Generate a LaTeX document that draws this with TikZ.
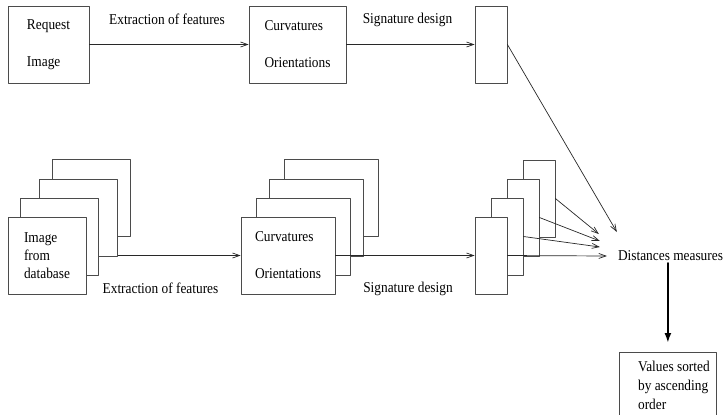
\documentclass[tikz,border=0pt]{standalone}
\usepackage{fontspec}
\setmainfont{Liberation Serif}[FakeStretch=0.89]
\usetikzlibrary{arrows.meta,calc,positioning,backgrounds}
\definecolor{framegray}{RGB}{75,75,75}
\definecolor{linegray}{RGB}{40,40,40}

\begin{document}
\begin{tikzpicture}[x=1pt,y=-1pt,line cap=round,line join=round,
                    font=\fontsize{15}{18}\selectfont,
    box/.style={draw=framegray,fill=white,line width=.8pt,inner sep=0pt,
                minimum height=77pt,align=left},
    flow/.style={-{Straight Barb[length=7pt,width=5pt]},draw=linegray,
                 line width=.7pt},
    lbl/.style={inner sep=0pt}]
  \useasboundingbox (0,0) rectangle (726,415);
  % Obraz zapytania: cechy i sygnatura.
  \node[box,minimum width=81pt] (req) at (48.5,44.5) {Request\\[19pt]Image};
  \node[box,minimum width=97pt] (cvt) at (297.5,44.5)
       {Curvatures\\[19pt]Orientations};
  \node[box,minimum width=32pt] (sgt) at (491,44.5) {};
  \draw[flow] (req) -- (cvt)
       node[lbl,midway,xshift=-2pt,yshift=25pt] {Extraction of features};
  \draw[flow] (cvt) -- (sgt)
       node[lbl,midway,xshift=-3pt,yshift=25pt] {Signature design};

  % Obrazy z bazy: stosy kart.
  \foreach \n/\x/\y in {4/91/198,3/78/217.5,2/59/236.5}
    \node[box,minimum width=78pt] (db\n) at (\x,\y) {};
  \node[box,minimum width=78pt] (db1) at (47,255.5)
       {Image\\from\\database};
  \foreach \n/\x/\y in {4/331.5/198,3/316.5/217.5,2/303.5/236.5}
    \node[box,minimum width=94pt] (cv\n) at (\x,\y) {};
  \node[box,minimum width=94pt] (cv1) at (288,255.5)
       {Curvatures\\[19pt]Orientations};
  \foreach \n/\x/\y in {4/539/198.5,3/523/217.5,2/507/236.5,1/491/255.5}
    \node[box,minimum width=32pt] (sg\n) at (\x,\y) {};

  \begin{scope}[on background layer]
    \draw[flow] (db1) -- (cv1)
         node[lbl,midway,xshift=-3pt,yshift=-33pt] {Extraction of features};
  \end{scope}
  \draw[flow] (cv1) -- (sg1)
       node[lbl,midway,xshift=3pt,yshift=-33pt] {Signature design};

  % Porownanie i wynik.
  \node[inner sep=2pt] (dist) at (670.5,256) {Distances measures};
  \node[box,anchor=north west,minimum width=97pt,minimum height=69pt]
       (val) at (619,352)
       {\begin{tabular}{@{\hspace{12pt}}l@{}}
          Values sorted\\[1pt]by ascending\\[1pt]order
        \end{tabular}};
  \draw[flow] (sgt.east) -- ([shift={(1pt,24pt)}]dist.west);
  \draw[flow] (sg4.east) -- ([shift={(-17pt,22pt)}]dist.west);
  \draw[flow] (sg3.east) -- ([shift={(-16pt,15pt)}]dist.west);
  \draw[flow] (sg2.east) -- ([shift={(-16pt,9pt)}]dist.west);
  \draw[flow] (sg1.east) -- ([shift={(-9pt,0pt)}]dist.west);
  \draw[-{Latex[length=10pt,width=7pt]},line width=2.4pt,shorten >=9pt]
       (val.north |- dist.south) -- (val.north);
\end{tikzpicture}
\end{document}
